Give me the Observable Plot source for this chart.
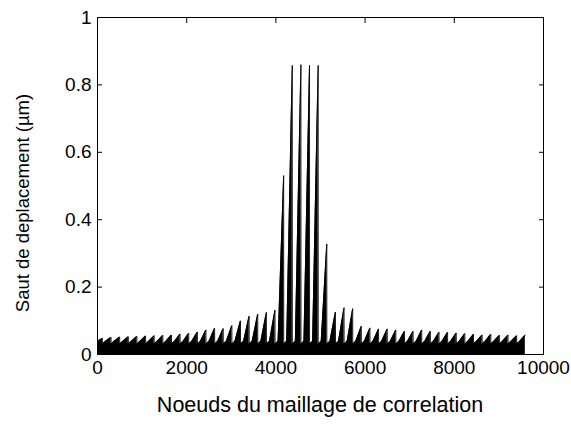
<!DOCTYPE html>
<html>
<head>
<meta charset="utf-8">
<script src="https://cdn.jsdelivr.net/npm/d3@7"></script>
<script src="https://cdn.jsdelivr.net/npm/@observablehq/plot@0.6"></script>
<style>
  html, body { margin: 0; padding: 0; background: white; }
  #chart { width: 571px; height: 427px; }
</style>
</head>
<body>
<div id="chart"></div>
<script>
// Tick labels
const xTicks = [0, 2000, 4000, 6000, 8000, 10000];
const yTicks = [0, 0.2, 0.4, 0.6, 0.8, 1];

// Node index of each tooth peak (one tooth per mesh row)
const peakNodes = [110, 304, 497, 691, 884, 1078, 1271, 1465, 1658, 1852,
  2045, 2239, 2432, 2626, 2819, 3013, 3206, 3400, 3593, 3787,
  3980, 4174, 4367, 4561, 4754, 4948, 5141, 5335, 5528, 5722,
  5915, 6109, 6302, 6496, 6689, 6883, 7076, 7270, 7463, 7657,
  7850, 8044, 8237, 8431, 8624, 8818, 9011, 9205, 9398, 9592];

// Peak displacement jump of each tooth (µm)
const peakValues = [0.048, 0.051, 0.052, 0.053, 0.054, 0.055, 0.056, 0.057, 0.058, 0.061,
  0.063, 0.067, 0.073, 0.078, 0.077, 0.086, 0.100, 0.114, 0.120, 0.125,
  0.132, 0.531, 0.858, 0.860, 0.858, 0.858, 0.328, 0.126, 0.139, 0.136,
  0.084, 0.079, 0.076, 0.076, 0.073, 0.069, 0.069, 0.073, 0.069, 0.066,
  0.066, 0.064, 0.062, 0.060, 0.058, 0.060, 0.057, 0.058, 0.056, 0.058];

// Level right after each drop, level where each tooth starts its rise, rise length (nodes)
const valleyLow = 0.031;
const toothBase = 0.039;
const riseNodes = 125;

const pts = [];
let prev = null;
peakNodes.forEach((n, k) => {
  if (prev !== null) pts.push({node: prev + 1, saut: valleyLow});
  pts.push({node: Math.max(0, n - riseNodes), saut: toothBase});
  pts.push({node: n, saut: peakValues[k]});
  prev = n;
});

const font = "'Liberation Sans', Arial, Helvetica, sans-serif";
const tickFs = 19;

const chart = Plot.plot({
  width: 571,
  height: 427,
  marginLeft: 97,
  marginRight: 28,
  marginTop: 17,
  marginBottom: 73,
  style: {fontFamily: font, fontSize: tickFs + "px", color: "black", background: "white", overflow: "visible"},
  x: {domain: [0, 10000]},
  y: {domain: [0, 1]},
  marks: [
    Plot.areaY(pts, {x: "node", y: "saut", fill: "black"}),
    Plot.lineY(pts, {x: "node", y: "saut", stroke: "black", strokeWidth: 0.9}),
    Plot.frame({stroke: "black", strokeWidth: 1}),
    Plot.axisX(xTicks, {anchor: "bottom", tickSize: 0, tickPadding: 6, tickFormat: d => String(d), label: null, fontSize: tickFs}),
    Plot.axisX(xTicks, {anchor: "bottom", tickSize: -5, tickFormat: () => "", label: null}),
    Plot.axisX(xTicks, {anchor: "top", tickSize: -5, tickFormat: () => "", label: null}),
    Plot.axisY(yTicks, {anchor: "left", tickSize: 0, tickPadding: 6, tickFormat: d => String(d), label: null, fontSize: tickFs}),
    Plot.axisY(yTicks, {anchor: "left", tickSize: -5, tickFormat: () => "", label: null}),
    Plot.axisY(yTicks, {anchor: "right", tickSize: -5, tickFormat: () => "", label: null})
  ]
});

const svg = d3.select(chart);
svg.append("text")
  .attr("x", 320).attr("y", 412)
  .attr("text-anchor", "middle")
  .attr("font-family", font).attr("font-size", 21.5).attr("fill", "black")
  .text("Noeuds du maillage de correlation");
svg.append("text")
  .attr("transform", "translate(29,203) rotate(-90)")
  .attr("text-anchor", "middle")
  .attr("font-family", font).attr("font-size", 18.5).attr("fill", "black")
  .text("Saut de deplacement (µm)");

document.getElementById("chart").appendChild(chart);
</script>
</body>
</html>
